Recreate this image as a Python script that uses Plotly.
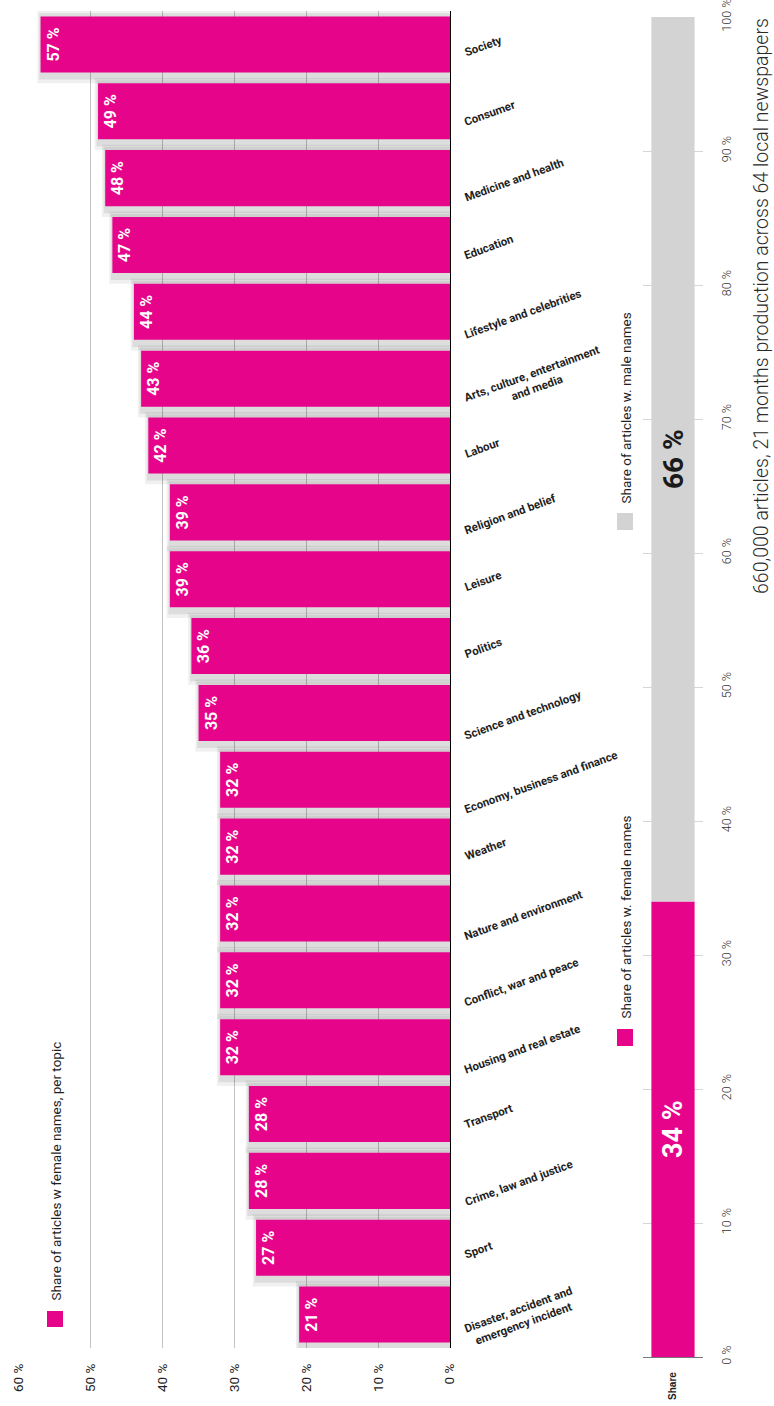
import plotly.graph_objects as go

# ---------------- data ----------------
topics = [
    "Society", "Consumer", "Medicine and health", "Education",
    "Lifestyle and celebrities", "Arts, culture, entertainment<br>and media",
    "Labour", "Religion and belief", "Leisure", "Politics",
    "Science and technology", "Economy, business and finance", "Weather",
    "Nature and environment", "Conflict, war and peace",
    "Housing and real estate", "Transport", "Crime, law and justice",
    "Sport", "Disaster, accident and<br>emergency incident",
]
female_share_by_topic = [57, 49, 48, 47, 44, 43, 42, 39, 39, 36,
                         35, 32, 32, 32, 32, 32, 28, 28, 27, 21]

x_tick_values = [0, 10, 20, 30, 40, 50, 60]
x_tick_labels = ["0 %", "10 %", "20 %", "30 %", "40 %", "50 %", "60 %"]

total_category = ["Share"]
total_female = [34]
total_male = [66]
y2_tick_values = [0, 10, 20, 30, 40, 50, 60, 70, 80, 90, 100]
y2_tick_labels = ["0 %", "10 %", "20 %", "30 %", "40 %", "50 %",
                  "60 %", "70 %", "80 %", "90 %", "100 %"]

legend_topic = "Share of articles w female names, per topic"
legend_female = "Share of articles w. female names"
legend_male = "Share of articles w. male names"
title_text = "660,000 articles, 21 months production across 64 local newspapers"

# ---------------- style ----------------
W, H = 774, 1406
PINK = "#E6058A"
GREY = "#D3D3D3"
FONT = "Roboto, Liberation Sans, Arial, sans-serif"


def px(x):
    return x / W


def py(y):
    return 1 - y / H


positions = list(range(len(topics)))
fig = go.Figure()

# soft shadows behind the topic bars
fig.add_trace(go.Bar(
    y=positions, x=[v + 0.45 for v in female_share_by_topic], orientation="h",
    width=1.08, offset=-0.5, marker=dict(color="rgba(0,0,0,0.06)", line=dict(width=0)),
    hoverinfo="skip", showlegend=False, xaxis="x", yaxis="y"))
fig.add_trace(go.Bar(
    y=positions, x=[v + 0.2 for v in female_share_by_topic], orientation="h",
    width=0.99, offset=-0.465, marker=dict(color="rgba(0,0,0,0.08)", line=dict(width=0)),
    hoverinfo="skip", showlegend=False, xaxis="x", yaxis="y"))

# topic bars
fig.add_trace(go.Bar(
    y=positions, x=female_share_by_topic, orientation="h", width=0.838,
    marker=dict(color=PINK, line=dict(width=0)),
    text=[f"{v} %" for v in female_share_by_topic],
    textposition="inside", insidetextanchor="end", textangle=-90,
    textfont=dict(family=FONT, size=16, color="white", weight="bold"),
    hoverinfo="skip", showlegend=False, xaxis="x", yaxis="y"))

# total stacked bar
fig.add_trace(go.Bar(
    x=total_category, y=total_female, width=0.72,
    marker=dict(color=PINK, line=dict(width=0)),
    text=[f"{v} %" for v in total_female], textposition="inside",
    insidetextanchor="middle", textangle=-90,
    textfont=dict(family=FONT, size=27, color="white", weight="bold"),
    hoverinfo="skip", showlegend=False, xaxis="x2", yaxis="y2"))
fig.add_trace(go.Bar(
    x=total_category, y=total_male, base=total_female, width=0.72,
    marker=dict(color=GREY, line=dict(width=0)),
    text=[f"{v} %" for v in total_male], textposition="inside",
    insidetextanchor="middle", textangle=-90,
    textfont=dict(family=FONT, size=28, color="#1a1a1a", weight="bold"),
    hoverinfo="skip", showlegend=False, xaxis="x2", yaxis="y2"))

annotations = []
for i, name in enumerate(topics):
    annotations.append(dict(
        x=px(460), xref="paper", y=i, yref="y", xanchor="left", yanchor="middle",
        text=name, textangle=-20, showarrow=False, align="center", yshift=-2,
        font=dict(family=FONT, size=11.5, color="#1e1e1e", weight="bold")))

# rotated legend texts and title
annotations += [
    dict(x=px(55), xref="paper", y=py(1303), yref="paper", xanchor="center",
         yanchor="bottom", text=legend_topic, textangle=-90, showarrow=False,
         font=dict(family=FONT, size=13.5, color="#1e1e1e")),
    dict(x=px(625), xref="paper", y=py(1021), yref="paper", xanchor="center",
         yanchor="bottom", text=legend_female, textangle=-90, showarrow=False,
         font=dict(family=FONT, size=13.5, color="#1e1e1e")),
    dict(x=px(625), xref="paper", y=py(506), yref="paper", xanchor="center",
         yanchor="bottom", text=legend_male, textangle=-90, showarrow=False,
         font=dict(family=FONT, size=13.5, color="#1e1e1e")),
    dict(x=px(761), xref="paper", y=py(16), yref="paper", xanchor="center",
         yanchor="top", text=title_text, textangle=-90, showarrow=False,
         font=dict(family=FONT, size=19.5, color="#2a2a2a", weight=300)),
]

shapes = [
    dict(type="rect", xref="paper", yref="paper", x0=px(47), x1=px(63),
         y0=py(1327), y1=py(1311), fillcolor=PINK, line=dict(width=0)),
    dict(type="rect", xref="paper", yref="paper", x0=px(617), x1=px(633),
         y0=py(1046), y1=py(1029), fillcolor=PINK, line=dict(width=0)),
    dict(type="rect", xref="paper", yref="paper", x0=px(617), x1=px(633),
         y0=py(530), y1=py(513), fillcolor=GREY, line=dict(width=0)),
]

fig.update_layout(
    width=W, height=H, margin=dict(l=0, r=0, t=0, b=0),
    paper_bgcolor="white", plot_bgcolor="white", template="none",
    barmode="overlay", showlegend=False,
    annotations=annotations, shapes=shapes,
    xaxis=dict(domain=[px(19), px(450)], range=[60, 0], anchor="y",
               tickvals=x_tick_values, ticktext=x_tick_labels, tickangle=-90,
               showgrid=True, gridcolor="#c4c4c4", gridwidth=1, zeroline=False,
               showline=False, ticks="", ticklabelstandoff=12, automargin=False,
               ticklabeloverflow="allow",
               tickfont=dict(family=FONT, size=13.5, color="#222")),
    yaxis=dict(domain=[py(1348), py(11)], range=[len(topics) - 0.5, -0.5],
               anchor="x", side="right", showticklabels=False, showgrid=False,
               zeroline=False, showline=True, linecolor="#000", linewidth=1.3,
               ticks="", automargin=False),
    xaxis2=dict(domain=[px(643), px(703)], anchor="y2", type="category",
                tickangle=-90, showgrid=False, zeroline=False, showline=True,
                linecolor="#777", linewidth=1.3, ticks="", ticklabelstandoff=10,
                automargin=False, ticklabeloverflow="allow",
                tickfont=dict(family="Liberation Sans, Arial, sans-serif", size=10,
                              color="#222", weight="bold")),
    yaxis2=dict(domain=[py(1357), py(17)], anchor="x2", range=[0, 100], side="right",
                tickvals=y2_tick_values, ticktext=y2_tick_labels, tickangle=-90,
                showgrid=True, gridcolor="#d6d6d6", gridwidth=1, zeroline=False,
                showline=False, ticks="", ticklabelstandoff=14, automargin=False,
                ticklabeloverflow="allow",
                tickfont=dict(family=FONT, size=12.5, color="#333", weight=300)),
)

# remove the browser's default page margin so the figure sits at (0, 0)
fig.write_html("out.html", config={"displayModeBar": False},
               post_script="document.body.style.margin='0px';")
